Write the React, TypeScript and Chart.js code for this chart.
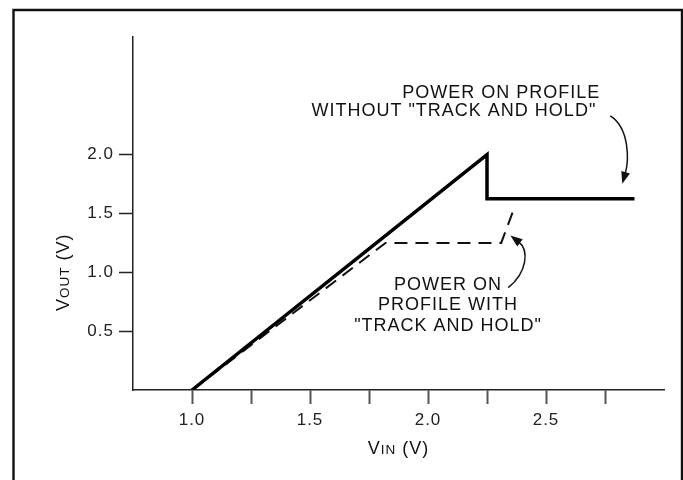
import React, { useEffect, useRef } from "react";
import { Chart, registerables } from "chart.js";

Chart.register(...registerables);

// ---- data ----
const xTickValues = [1.0, 1.25, 1.5, 1.75, 2.0, 2.25, 2.5, 2.75];
const xLabeledTicks = [1.0, 1.5, 2.0, 2.5];
const yTickValues = [0.5, 1.0, 1.5, 2.0];
const xMin = 0.75;
const xMax = 3.0;
const yMin = 0;
const yMax = 3.0;

// Power-on profile without "track and hold" (solid)
const withoutVin = [1.0, 2.25, 2.25, 2.875];
const withoutVout = [0, 2.0, 1.625, 1.625];
// Power-on profile with "track and hold" (dashed)
const withVin = [1.0, 1.82, 2.31, 2.37];
const withVout = [0, 1.25, 1.25, 1.57];

const noteWithoutLines = ["POWER ON PROFILE", 'WITHOUT "TRACK AND HOLD"'];
const noteWithoutX = [2.73, 2.713];
const noteWithoutY = [2.525, 2.373];

const noteWithLines = ["POWER ON", "PROFILE WITH", '"TRACK AND HOLD"'];
const noteWithX = [2.085, 2.085, 2.085];
const noteWithY = [0.896, 0.718, 0.54];

// arrows: tail, control1, control2, tip (data coordinates)
const arrowWithoutVin = [2.7725, 2.853, 2.853, 2.823];
const arrowWithoutVout = [2.33, 2.228, 1.957, 1.753];
const arrowWithVin = [2.34, 2.42, 2.43, 2.349];
const arrowWithVout = [0.87, 1.0, 1.19, 1.312];

const FONT = '"Liberation Sans", Arial, Helvetica, sans-serif';

function zip(xs: number[], ys: number[]) {
  return xs.map((v, i) => ({ x: v, y: ys[i] }));
}

function drawSmallCaps(
  ctx: CanvasRenderingContext2D,
  parts: [string, number][],
  cx: number,
  cy: number,
  rotate: boolean
) {
  ctx.save();
  ctx.translate(cx, cy);
  if (rotate) ctx.rotate(-Math.PI / 2);
  let total = 0;
  const widths = parts.map(([t, s]) => {
    ctx.font = `${s}px ${FONT}`;
    const w = ctx.measureText(t).width;
    total += w;
    return w;
  });
  let xpos = -total / 2;
  ctx.textBaseline = "alphabetic";
  ctx.textAlign = "left";
  ctx.fillStyle = "#111";
  parts.forEach(([t, s], i) => {
    ctx.font = `${s}px ${FONT}`;
    ctx.fillText(t, xpos, 6.5);
    xpos += widths[i];
  });
  ctx.restore();
}

function drawArrow(
  ctx: CanvasRenderingContext2D,
  pts: { x: number; y: number }[]
) {
  const [a, c1, c2, tip] = pts;
  const dx = tip.x - c2.x;
  const dy = tip.y - c2.y;
  const len = Math.hypot(dx, dy) || 1;
  const ux = dx / len;
  const uy = dy / len;
  const headLen = 12;
  const headHalf = 4.5;
  const bx = tip.x - ux * headLen;
  const by = tip.y - uy * headLen;
  ctx.save();
  ctx.strokeStyle = "#111";
  ctx.lineWidth = 1.5;
  ctx.beginPath();
  ctx.moveTo(a.x, a.y);
  ctx.bezierCurveTo(c1.x, c1.y, c2.x, c2.y, bx + ux * 2, by + uy * 2);
  ctx.stroke();
  ctx.fillStyle = "#111";
  ctx.beginPath();
  ctx.moveTo(tip.x, tip.y);
  ctx.lineTo(bx - uy * headHalf, by + ux * headHalf);
  ctx.lineTo(bx + uy * headHalf, by - ux * headHalf);
  ctx.closePath();
  ctx.fill();
  ctx.restore();
}

const decorPlugin = {
  id: "decor",
  beforeDraw(chart: any) {
    (chart.ctx as any).letterSpacing = "1px";
  },
  afterDraw(chart: any) {
    const ctx: CanvasRenderingContext2D = chart.ctx;
    const xs = chart.scales.x;
    const ys = chart.scales.y;
    const px = (v: number) => xs.getPixelForValue(v);
    const py = (v: number) => ys.getPixelForValue(v);
    ctx.save();
    (ctx as any).letterSpacing = "1px";

    // outer frame (bottom edge lies outside the picture)
    ctx.strokeStyle = "#111";
    ctx.lineWidth = 2.4;
    ctx.beginPath();
    ctx.moveTo(13.5, chart.height + 5);
    ctx.lineTo(13.5, 10);
    ctx.lineTo(682, 10);
    ctx.lineTo(682, chart.height + 5);
    ctx.stroke();

    // notes
    ctx.fillStyle = "#111";
    ctx.font = `18px ${FONT}`;
    ctx.textBaseline = "middle";
    ctx.textAlign = "right";
    noteWithoutLines.forEach((t, i) => {
      ctx.fillText(t, px(noteWithoutX[i]), py(noteWithoutY[i]));
    });
    ctx.textAlign = "center";
    noteWithLines.forEach((t, i) => {
      ctx.fillText(t, px(noteWithX[i]), py(noteWithY[i]));
    });

    // arrows
    drawArrow(
      ctx,
      arrowWithoutVin.map((v, i) => ({ x: px(v), y: py(arrowWithoutVout[i]) }))
    );
    drawArrow(
      ctx,
      arrowWithVin.map((v, i) => ({ x: px(v), y: py(arrowWithVout[i]) }))
    );

    // axis titles (small caps subscripts)
    drawSmallCaps(
      ctx,
      [
        ["V", 18],
        ["IN", 13.5],
        [" (V)", 18],
      ],
      (xs.left + xs.right) / 2,
      chart.chartArea.bottom + 57,
      false
    );
    drawSmallCaps(
      ctx,
      [
        ["V", 18],
        ["OUT", 13.5],
        [" (V)", 18],
      ],
      62,
      py(1.0),
      true
    );
    ctx.restore();
  },
};

export default function App() {
  const canvasRef = useRef<HTMLCanvasElement | null>(null);

  useEffect(() => {
    document.body.style.margin = "0";
    const canvas = canvasRef.current;
    if (!canvas) return;
    const tickFont = { family: FONT, size: 17 };
    const chart = new Chart(canvas, {
      type: "scatter",
      data: {
        datasets: [
          {
            label: "without track and hold",
            data: zip(withoutVin, withoutVout),
            showLine: true,
            borderColor: "#000",
            borderWidth: 3.5,
            pointRadius: 0,
            fill: false,
            tension: 0,
            borderJoinStyle: "miter",
          },
          {
            label: "with track and hold",
            data: zip(withVin, withVout),
            showLine: true,
            borderColor: "#111",
            borderWidth: 2,
            borderDash: [13, 8],
            pointRadius: 0,
            fill: false,
            tension: 0,
          },
        ],
      },
      options: {
        animation: false,
        responsive: false,
        devicePixelRatio: 1,
        events: [],
        layout: { padding: { top: 37, right: 19, left: 0, bottom: 0 } },
        plugins: {
          legend: { display: false },
          tooltip: { enabled: false },
          title: { display: false },
        },
        scales: {
          x: {
            type: "linear",
            min: xMin,
            max: xMax,
            afterBuildTicks: (s: any) => {
              s.ticks = xTickValues.map((v) => ({ value: v }));
            },
            afterFit: (s: any) => {
              s.height = 90;
            },
            grid: {
              drawOnChartArea: false,
              drawTicks: true,
              tickLength: 14,
              tickColor: "#555",
              tickWidth: 2,
            },
            border: { color: "#222", width: 1.5 },
            ticks: {
              autoSkip: false,
              maxRotation: 0,
              padding: 6,
              color: "#222",
              font: tickFont,
              callback: (v: any) =>
                xLabeledTicks.includes(Number(v)) ? Number(v).toFixed(1) : "",
            },
          },
          y: {
            type: "linear",
            min: yMin,
            max: yMax,
            afterBuildTicks: (s: any) => {
              s.ticks = yTickValues.map((v) => ({ value: v }));
            },
            afterFit: (s: any) => {
              s.width = 133;
            },
            grid: {
              drawOnChartArea: false,
              drawTicks: true,
              tickLength: 14,
              tickColor: "#222",
              tickWidth: 1.5,
            },
            border: { color: "#222", width: 1.5 },
            ticks: {
              padding: 5,
              color: "#222",
              font: tickFont,
              callback: (v: any) => Number(v).toFixed(1),
            },
          },
        },
      },
      plugins: [decorPlugin],
    } as any);
    return () => chart.destroy();
  }, []);

  return (
    <div style={{ width: 683, height: 480, position: "relative" }}>
      <canvas ref={canvasRef} width={683} height={480} />
    </div>
  );
}
